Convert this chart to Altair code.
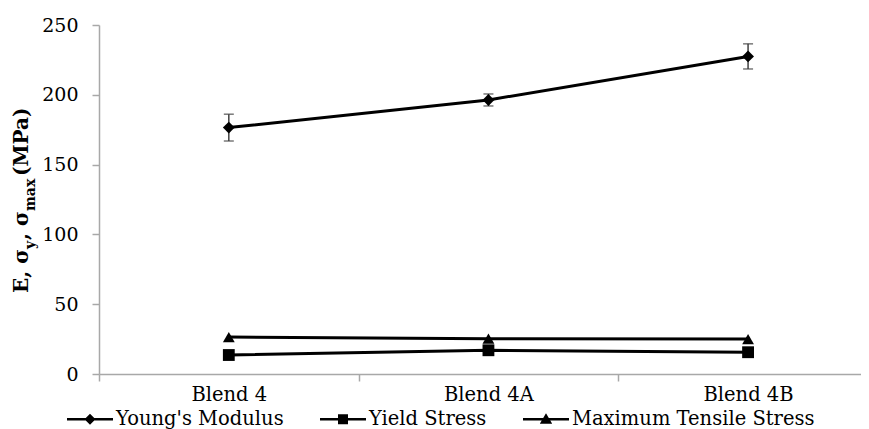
import altair as alt
import pandas as pd

categories = ["Blend 4", "Blend 4A", "Blend 4B"]
series_names = ["Young's Modulus", "Yield Stress", "Maximum Tensile Stress"]
youngs = [176.5, 196.3, 227.5]
youngs_err = [9.6, 4.3, 9.0]
yield_stress = [13.6, 17.0, 15.6]
max_tensile = [26.5, 25.3, 25.0]
y_ticks = [0, 50, 100, 150, 200, 250]

FONT = "DejaVu Serif"
GREY = "#a8a8a8"

rows = []
for name, vals in zip(series_names, [youngs, yield_stress, max_tensile]):
    for i, (c, v) in enumerate(zip(categories, vals)):
        rows.append({"Blend": c, "idx": i, "Series": name, "Value": v})
df = pd.DataFrame(rows)
err_df = pd.DataFrame({
    "Blend": categories,
    "idx": list(range(len(categories))),
    "lo": [v - e for v, e in zip(youngs, youngs_err)],
    "hi": [v + e for v, e in zip(youngs, youngs_err)],
})

label_expr = " : ".join(f"datum.value == {i} ? '{c}'" for i, c in enumerate(categories)) + " : ''"
x_values = [-0.5, 0, 0.5, 1, 1.5, 2]

x_enc = alt.X(
    "idx:Q",
    scale=alt.Scale(domain=[-0.5, 2.435], nice=False, zero=False),
    axis=alt.Axis(title=None, values=x_values, labelExpr=label_expr, labelAngle=0,
                  labelOverlap=False, labelFlush=False, grid=False,
                  domainColor=GREY, domainWidth=1.5,
                  tickColor={"condition": {"test": "datum.value % 1 == 0", "value": "transparent"},
                             "value": GREY},
                  tickWidth=1.5, tickSize=7,
                  labelPadding=4, labelFont=FONT, labelFontSize=19.5, labelColor="black"),
)
y_enc = alt.Y(
    "Value:Q",
    scale=alt.Scale(domain=[0, 250], nice=False),
    axis=alt.Axis(title=None, values=y_ticks, grid=False, domainColor=GREY, domainWidth=1.5,
                  tickColor=GREY, tickWidth=1.5, tickSize=7, labelPadding=14,
                  labelFont=FONT, labelFontSize=19, labelColor="black"),
)

base = alt.Chart(df)

lines = base.mark_line(color="black", strokeWidth=3).encode(x=x_enc, y=y_enc, detail="Series:N")

points = base.mark_point(filled=True, color="black", opacity=1, size=140).encode(
    x=x_enc, y=y_enc,
    shape=alt.Shape("Series:N", scale=alt.Scale(domain=series_names,
                    range=["diamond", "square", "triangle-up"]), legend=None),
)

# legend glyphs: a short filled bar (the line) plus the marker, drawn as one filled path
legend_paths = [
    "M-2.3,-0.13H2.3V0.13H-2.3Z M0,-0.55L0.55,0L0,0.55L-0.55,0Z",
    "M-2.3,-0.13H2.3V0.13H-2.3Z M-0.5,-0.5H0.5V0.5H-0.5Z",
    "M-2.3,-0.13H2.3V0.13H-2.3Z M0,-0.6L0.62,0.45H-0.62Z",
]
legend_layer = base.mark_point(filled=True, color="black", opacity=0, size=400).encode(
    x=x_enc, y=y_enc,
    shape=alt.Shape("Series:N", scale=alt.Scale(domain=series_names, range=legend_paths),
                    legend=alt.Legend(title=None, orient="none", direction="horizontal",
                                      legendX=-19, legendY=384, symbolOpacity=1,
                                      symbolFillColor="black", symbolStrokeWidth=0,
                                      symbolSize=400,
                                      labelFont=FONT, labelFontSize=19.5, labelColor="black",
                                      labelOffset=16, columnPadding=36, labelLimit=400)),
)

err_rule = alt.Chart(err_df).mark_rule(color="#404040", strokeWidth=1.5).encode(
    x=x_enc, y=alt.Y("lo:Q"), y2="hi:Q")
cap_lo = alt.Chart(err_df).mark_tick(color="#404040", thickness=1.5, size=10, orient="horizontal").encode(
    x=x_enc, y=alt.Y("lo:Q"))
cap_hi = alt.Chart(err_df).mark_tick(color="#404040", thickness=1.5, size=10, orient="horizontal").encode(
    x=x_enc, y=alt.Y("hi:Q"))

one = alt.Data(values=[{}])
title_parts = []
for txt, yy, big in [("E, σ", 268, True), ("y", 224, False), (", σ", 215, True),
                     ("max", 186, False), (" (MPa)", 151, True)]:
    title_parts.append(
        alt.Chart(one).mark_text(
            font=FONT, fontWeight="bold", fontSize=20 if big else 14, angle=270,
            align="left", baseline="alphabetic", color="black",
        ).encode(x=alt.value(-71 if big else -64), y=alt.value(yy), text=alt.value(txt))
    )

chart = alt.layer(err_rule, cap_lo, cap_hi, lines, points, legend_layer, *title_parts).resolve_scale(
    shape="independent"
).properties(
    width=762, height=349,
    autosize=alt.AutoSizeParams(type="none"),
    padding={"left": 91, "top": 17, "right": 0, "bottom": 55},
).configure_view(stroke=None)

chart.save("out.html", embed_options={"renderer": "svg", "actions": False})
